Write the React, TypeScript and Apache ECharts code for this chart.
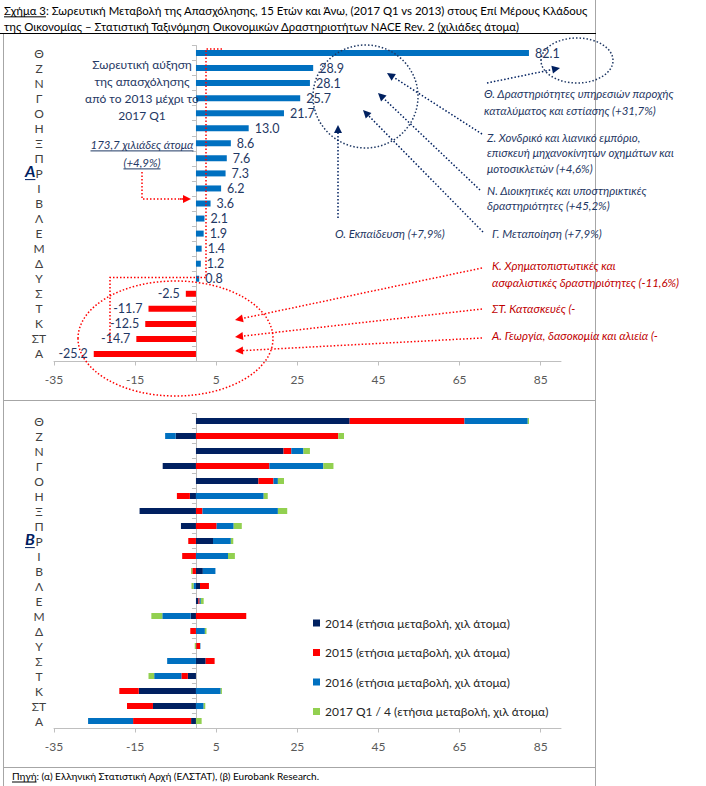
import React, { useEffect, useRef } from 'react';
import * as echarts from 'echarts';

const CATEGORIES = ['Θ', 'Ζ', 'Ν', 'Γ', 'Ο', 'Η', 'Ξ', 'Π', 'Ρ', 'Ι', 'Β', 'Λ', 'Ε', 'Μ', 'Δ', 'Υ', 'Σ', 'Τ', 'Κ', 'ΣΤ', 'Α'];
const CUMULATIVE = [82.1, 28.9, 28.1, 25.7, 21.7, 13.0, 8.6, 7.6, 7.3, 6.2, 3.6, 2.1, 1.9, 1.4, 1.2, 0.8, -2.5, -11.7, -12.5, -14.7, -25.2];
const Y2014 = [37.9, -5.0, 21.6, -8.2, 15.4, -1.5, -13.9, -3.7, 4.2, 0, 1.7, 1.0, 0.6, -1.3, 0, 0.1, 2.4, -2.0, -14.1, -10.6, -1.2];
const Y2015 = [28.3, 35.1, 1.9, 18.1, 3.7, -3.2, 1.6, 5.1, -1.9, -3.4, -0.9, 2.2, 0.3, 12.4, -1.4, 0.9, 2.2, -1.6, -4.8, -6.4, -14.3];
const Y2016 = [15.6, -2.6, 3.0, 13.3, 1.1, 16.7, 18.6, 4.2, 4.4, 7.9, 3.1, -0.6, 0.3, -7.0, 2.2, 0.1, -7.1, -6.7, 6.1, 1.9, -11.1];
const Y2017 = [0.3, 1.4, 1.6, 2.5, 1.5, 1.0, 2.3, 2.0, 0.6, 1.7, -0.3, -0.5, 0.7, -2.7, 0.4, -0.3, 0, -1.4, 0.3, 0.4, 1.4];
const SERIES_NAMES = [
  '2014 (ετήσια μεταβολή, χιλ άτομα)',
  '2015 (ετήσια μεταβολή, χιλ άτομα)',
  '2016 (ετήσια μεταβολή, χιλ άτομα)',
  '2017 Q1 / 4 (ετήσια μεταβολή, χιλ άτομα)',
];
const X_TICKS = [-35, -15, 5, 25, 45, 65, 85];

const TITLE_LEAD = 'Σχήμα 3';
const TITLE_1 = ': Σωρευτική Μεταβολή της Απασχόλησης, 15 Ετών και Άνω, (2017 Q1 vs 2013) στους Επί Μέρους Κλάδους';
const TITLE_2 = 'της Οικονομίας – Στατιστική Ταξινόμηση Οικονομικών Δραστηριοτήτων NACE Rev. 2 (χιλιάδες άτομα)';
const SOURCE_LEAD = 'Πηγή';
const SOURCE_REST = ': (α) Ελληνική Στατιστική Αρχή (ΕΛΣΤΑΤ), (β) Eurobank Research.';

const F = "Lato, 'Noto Sans', sans-serif";
const NAVY = '#1F3864';
const DRED = '#C00000';
const BAR_COLORS = ['#002060', '#FF0000', '#0070C0', '#92D050'];

let ctx: CanvasRenderingContext2D | null = null;
function measure(text: string, size: number, style = 'normal', weight = 'normal') {
  if (!ctx) ctx = document.createElement('canvas').getContext('2d');
  ctx!.font = `${style} ${weight} ${size}px ${F}`;
  return ctx!.measureText(text).width;
}

function txt(x: number, y: number, text: string, o: any = {}) {
  return {
    type: 'text', z: 100, x, y,
    style: {
      text, fill: o.fill || NAVY, fontSize: o.size || 11, fontFamily: F,
      fontStyle: o.italic ? 'italic' : 'normal', fontWeight: o.bold ? 'bold' : 'normal',
      align: o.align || 'left', verticalAlign: 'middle',
    },
  };
}

function uline(x1: number, x2: number, y: number, color: string, w = 1) {
  return { type: 'line', z: 100, shape: { x1, y1: y, x2, y2: y }, style: { stroke: color, lineWidth: w } };
}

function utext(cx: number, y: number, text: string, o: any) {
  const w = measure(text, o.size, o.italic ? 'italic' : 'normal', o.bold ? 'bold' : 'normal');
  const x1 = o.align === 'center' ? cx - w / 2 : cx;
  return [txt(cx, y, text, o), uline(x1, x1 + w, y + o.size * 0.6, o.fill, 1)];
}

const DOT = [1.5, 2];
function dline(points: number[][], color: string) {
  return { type: 'polyline', z: 100, shape: { points }, style: { stroke: color, lineWidth: 1.5, lineDash: DOT, fill: 'none' } };
}

function arrow(x1: number, y1: number, x2: number, y2: number, color: string, head = 7) {
  const dx = x2 - x1, dy = y2 - y1;
  const L = Math.hypot(dx, dy);
  const ux = dx / L, uy = dy / L;
  const bx = x2 - ux * head, by = y2 - uy * head;
  const px = -uy, py = ux, w = head * 0.5;
  return [
    dline([[x1, y1], [bx, by]], color),
    { type: 'polygon', z: 100, shape: { points: [[x2, y2], [bx + px * w, by + py * w], [bx - px * w, by - py * w]] }, style: { fill: color } },
  ];
}

function dellipse(cx: number, cy: number, rx: number, ry: number, color: string) {
  return { type: 'ellipse', z: 100, shape: { cx, cy, rx, ry }, style: { stroke: color, lineWidth: 1.5, lineDash: DOT, fill: 'none' } };
}

function buildGraphics() {
  const g: any[] = [];
  const frame = '#A6A6A6';
  g.push(uline(0, 596, 33.5, '#000000', 1));
  g.push({ type: 'line', z: 90, shape: { x1: 595.5, y1: 0, x2: 595.5, y2: 786 }, style: { stroke: frame, lineWidth: 1 } });
  g.push({ type: 'line', z: 90, shape: { x1: 3.5, y1: 33, x2: 3.5, y2: 786 }, style: { stroke: frame, lineWidth: 1 } });
  g.push(uline(3, 596, 400.5, frame, 1));
  g.push(uline(3, 596, 767.5, frame, 1));

  // title
  const ts = 11.4;
  const leadW = measure(TITLE_LEAD, ts);
  g.push(...utext(4, 10, TITLE_LEAD, { size: ts, fill: '#000000' }));
  g.push(txt(4 + leadW, 10, TITLE_1, { size: ts, fill: '#000000' }));
  g.push(txt(4, 26, TITLE_2, { size: ts, fill: '#000000' }));

  // source
  const ss = 10;
  const sW = measure(SOURCE_LEAD, ss);
  g.push(...utext(12, 776, SOURCE_LEAD, { size: ss, fill: '#000000' }));
  g.push(txt(12 + sW, 776, SOURCE_REST, { size: ss, fill: '#000000' }));

  // panel letters
  g.push(...utext(25, 170, 'Α', { size: 16, bold: true, italic: true, fill: '#002060' }));
  g.push(...utext(25, 538, 'Β', { size: 16, bold: true, italic: true, fill: '#002060' }));

  // left note
  g.push(txt(142, 64, 'Σωρευτική αύξηση', { size: 12, align: 'center' }));
  g.push(txt(142, 81.5, 'της απασχόλησης', { size: 12, align: 'center' }));
  g.push(txt(142, 98, 'από το 2013 μέχρι το', { size: 12, align: 'center' }));
  g.push(txt(142, 115, '2017 Q1', { size: 12, align: 'center' }));
  g.push(...utext(142, 144, '173,7 χιλιάδες άτομα', { size: 11.5, italic: true, align: 'center', fill: NAVY }));
  g.push(...utext(142, 162, '(+4,9%)', { size: 11.5, italic: true, align: 'center', fill: NAVY }));

  // red dotted guides
  g.push(dline([[142, 172], [142, 199], [184, 199]], '#FF0000'));
  g.push(...arrow(180, 199, 191, 199, '#FF0000', 8));
  g.push(dline([[222, 49], [206, 49], [206, 277.5], [110, 277.5], [110, 343]], '#FF0000'));
  g.push(dellipse(175.5, 338.5, 97.5, 57.5, '#FF0000'));
  g.push(...arrow(482, 268, 235, 320, '#FF0000', 8));
  g.push(...arrow(482, 309, 235, 337, '#FF0000', 8));
  g.push(...arrow(482, 338, 235, 351, '#FF0000', 8));

  // red notes
  const rs = { size: 11.5, italic: true, fill: DRED };
  g.push(txt(492, 265, 'Κ. Χρηματοπιστωτικές και', rs));
  g.push(txt(492, 282, 'ασφαλιστικές δραστηριότητες (-11,6%)', rs));
  g.push(txt(492, 308, 'ΣΤ. Κατασκευές (-', rs));
  g.push(txt(492, 335, 'Α. Γεωργία, δασοκομία και αλιεία (-', rs));

  // navy guides
  g.push(dellipse(365.5, 96.5, 52.5, 51.5, '#1F3864'));
  g.push(dellipse(577, 60.5, 36, 22.5, '#1F3864'));
  g.push(...arrow(487, 83, 560, 68, '#002060', 8));
  g.push(...arrow(482, 134, 387, 73, '#002060', 8));
  g.push(...arrow(480, 190, 378, 93, '#002060', 8));
  g.push(...arrow(483, 232, 363, 110, '#002060', 8));
  g.push(...arrow(338, 218, 338, 125, '#002060', 8));

  // navy notes
  const ns = { size: 11.5, italic: true, fill: NAVY };
  g.push(txt(484, 93, 'Θ. Δραστηριότητες υπηρεσιών παροχής', ns));
  g.push(txt(484, 110, 'καταλύματος και εστίασης (+31,7%)', ns));
  g.push(txt(487, 137, 'Ζ. Χονδρικό και λιανικό εμπόριο,', ns));
  g.push(txt(487, 152.5, 'επισκευή μηχανοκίνητων οχημάτων και', ns));
  g.push(txt(487, 168, 'μοτοσικλετών (+4,6%)', ns));
  g.push(txt(487, 190, 'Ν. Διοικητικές και υποστηρικτικές', ns));
  g.push(txt(487, 205, 'δραστηριότητες (+45,2%)', ns));
  g.push(txt(492, 233, 'Γ. Μεταποίηση (+7,9%)', ns));
  g.push(txt(335, 233, 'Ο. Εκπαίδευση (+7,9%)', ns));
  return g;
}

function xAxis(gridIndex: number) {
  return {
    type: 'value', gridIndex, min: -35, max: 90,
    axisLine: { show: true, onZero: false, lineStyle: { color: '#BFBFBF' } },
    axisTick: { show: true, customValues: X_TICKS, length: 4, lineStyle: { color: '#BFBFBF' } },
    axisLabel: { customValues: X_TICKS, color: '#595959', fontSize: 12, fontFamily: F, margin: 12 },
    splitLine: { show: false },
  };
}

function yAxis(gridIndex: number) {
  return {
    type: 'category', gridIndex, data: CATEGORIES, inverse: true,
    axisLine: { show: true, onZero: true, lineStyle: { color: '#BFBFBF' } },
    axisTick: { show: true, length: 4, lineStyle: { color: '#BFBFBF' } },
    axisLabel: { interval: 0, color: '#404040', fontSize: 12, fontFamily: F, margin: 15, align: 'center' },
  };
}

export default function App() {
  const ref = useRef<HTMLDivElement>(null);
  useEffect(() => {
    const chart = echarts.init(ref.current!, null, { renderer: 'svg' });
    const option: any = {
      animation: false,
      backgroundColor: '#FFFFFF',
      textStyle: { fontFamily: F },
      grid: [
        { left: 54, right: 145, top: 45.5, height: 316, containLabel: false, outerBoundsMode: 'none' },
        { left: 54, right: 145, top: 413.5, height: 315, containLabel: false, outerBoundsMode: 'none' },
      ],
      xAxis: [xAxis(0), xAxis(1)],
      yAxis: [yAxis(0), yAxis(1)],
      legend: {
        left: 313, top: 617, orient: 'vertical', padding: 0,
        itemWidth: 7, itemHeight: 7, itemGap: 17.5, itemTextGap: 3, icon: 'rect', selectedMode: false,
        textStyle: { fontSize: 12, color: '#262626', fontFamily: F },
        data: SERIES_NAMES,
      },
      series: [
        {
          type: 'bar', xAxisIndex: 0, yAxisIndex: 0, barWidth: 6,
          data: CUMULATIVE.map((v) => ({
            value: v,
            itemStyle: { color: v >= 0 ? '#0070C0' : '#FF0000' },
            label: { position: v >= 0 ? 'right' : 'left' },
          })),
          label: { show: true, distance: 6, color: NAVY, fontSize: 12.5, fontFamily: F, formatter: (p: any) => Number(p.value).toFixed(1) },
        },
        ...[Y2014, Y2015, Y2016, Y2017].map((d, i) => ({
          type: 'bar', name: SERIES_NAMES[i], stack: 'yr', xAxisIndex: 1, yAxisIndex: 1,
          barWidth: 6, data: d, itemStyle: { color: BAR_COLORS[i] },
        })),
      ],
      graphic: { elements: buildGraphics() },
    };
    chart.setOption(option);
    return () => chart.dispose();
  }, []);
  return <div ref={ref} style={{ position: 'absolute', left: 0, top: 0, width: 706, height: 786 }} />;
}
